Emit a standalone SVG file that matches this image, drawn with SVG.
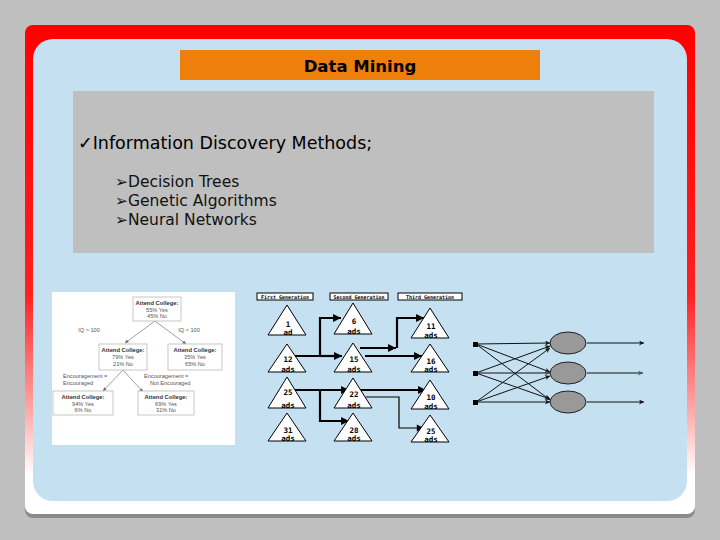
<svg xmlns="http://www.w3.org/2000/svg" width="720" height="540" viewBox="0 0 720 540">
<defs>
<linearGradient id="frameGrad" x1="0" y1="0" x2="0" y2="1">
<stop offset="0" stop-color="#ff0000"/>
<stop offset="0.55" stop-color="#ff2020"/>
<stop offset="0.8" stop-color="#ffb0b0"/>
<stop offset="0.92" stop-color="#ffffff"/>
<stop offset="1" stop-color="#ffffff"/>
</linearGradient>
<marker id="ga" viewBox="0 0 10 10" refX="10" refY="5" markerWidth="4.6" markerHeight="3.6" orient="auto" markerUnits="strokeWidth">
<path d="M0,0 L10,5 L0,10 z" fill="#000"/>
</marker>
<marker id="gaThin" viewBox="0 0 10 10" refX="10" refY="5" markerWidth="8" markerHeight="6" orient="auto" markerUnits="strokeWidth">
<path d="M0,0 L10,5 L0,10 z" fill="#000"/>
</marker>
<marker id="nn" viewBox="0 0 10 10" refX="10" refY="5" markerWidth="10" markerHeight="5" orient="auto" markerUnits="strokeWidth">
<path d="M0,0 L10,5 L0,10 L3,5 z" fill="#111"/>
</marker>
<marker id="nnGray" viewBox="0 0 10 10" refX="10" refY="5" markerWidth="10" markerHeight="5" orient="auto" markerUnits="strokeWidth">
<path d="M0,0 L10,5 L0,10 L3,5 z" fill="#555"/>
</marker>
<marker id="dt" viewBox="0 0 10 10" refX="10" refY="5" markerWidth="6" markerHeight="5" orient="auto" markerUnits="strokeWidth">
<path d="M0,0 L10,5 L0,10 z" fill="#666"/>
</marker>
<style>
.title{font-family:"DejaVu Sans",sans-serif;font-weight:bold;font-size:16.5px;fill:#000}
.main{font-family:"DejaVu Sans",sans-serif;font-size:17.5px;fill:#000}
.sub{font-family:"DejaVu Sans",sans-serif;font-size:15.5px;fill:#111}
.dtbox{fill:#fff;stroke:#b8b8b8;stroke-width:0.8}
.dtb{font-family:"Liberation Sans",sans-serif;font-size:5.8px;font-weight:bold;fill:#333}
.dtt{font-family:"Liberation Sans",sans-serif;font-size:5.6px;fill:#555}
.dtl{stroke:#777;stroke-width:0.7;fill:none}
.tri{fill:#fff;stroke:#000;stroke-width:1}
.hdr{fill:#fff;stroke:#000;stroke-width:1}
.ht{font-family:"DejaVu Sans Mono",monospace;font-weight:bold;font-size:5px;fill:#000}
.tn{font-family:"DejaVu Sans Mono",monospace;font-weight:bold;font-size:7.5px;fill:#000}
.ga{stroke:#000;stroke-width:2.2;fill:none}
.gaThin{stroke:#000;stroke-width:1.2;fill:none}
.nl{stroke:#111;stroke-width:1;fill:none}
.node{fill:#999;stroke:#222;stroke-width:1}
</style>
</defs>
<rect width="720" height="540" fill="#bfbfbf"/>
<g id="slide-frame">
<rect x="25" y="28" width="670" height="490" rx="8" fill="#8a8a8a"/>
<rect x="25" y="25" width="670" height="489" rx="8" fill="url(#frameGrad)"/>
<rect x="33" y="39" width="654" height="462" rx="20" fill="#c4e0f1"/>
</g>
<g id="title">
<rect x="180" y="50" width="360" height="30" fill="#ef7f0b"/>
<text class="title" x="360" y="72" text-anchor="middle">Data Mining</text>
</g>
<g id="content">
<rect x="73" y="91" width="581" height="162" fill="#bfbfbf"/>
<text class="main" x="78" y="149">✓Information Discovery Methods;</text>
<text class="sub" x="115" y="187">➢Decision Trees</text>
<text class="sub" x="115" y="206">➢Genetic Algorithms</text>
<text class="sub" x="115" y="225">➢Neural Networks</text>
</g>
<g id="decision-tree">
<rect x="52" y="292" width="183" height="153" fill="#fff"/>
<g class="dtl">
<line x1="155" y1="321" x2="125" y2="343" marker-end="url(#dt)"/>
<line x1="155" y1="321" x2="186" y2="344" marker-end="url(#dt)"/>
<line x1="123" y1="370" x2="103" y2="391" marker-end="url(#dt)"/>
<line x1="123" y1="370" x2="143" y2="392" marker-end="url(#dt)"/>
</g>
<g id="dt-root">
<rect class="dtbox" x="133" y="297" width="48" height="24"/>
<text class="dtb" x="157" y="305" text-anchor="middle">Attend College:</text>
<text class="dtt" x="157" y="311.5" text-anchor="middle">55% Yes</text>
<text class="dtt" x="157" y="318" text-anchor="middle">45% No</text>
</g>
<text class="dtt" x="89" y="332" text-anchor="middle">IQ &gt; 100</text>
<text class="dtt" x="189" y="332" text-anchor="middle">IQ &lt; 100</text>
<g id="dt-left">
<rect class="dtbox" x="99" y="344" width="48" height="26"/>
<text class="dtb" x="123" y="352" text-anchor="middle">Attend College:</text>
<text class="dtt" x="123" y="359" text-anchor="middle">79% Yes</text>
<text class="dtt" x="123" y="366" text-anchor="middle">21% No</text>
</g>
<g id="dt-right">
<rect class="dtbox" x="168" y="344" width="54" height="26"/>
<text class="dtb" x="195" y="352" text-anchor="middle">Attend College:</text>
<text class="dtt" x="195" y="359" text-anchor="middle">35% Yes</text>
<text class="dtt" x="195" y="366" text-anchor="middle">65% No</text>
</g>
<text class="dtt" x="63" y="378">Encouragement =</text>
<text class="dtt" x="63" y="385">Encouraged</text>
<text class="dtt" x="144" y="378">Encouragement =</text>
<text class="dtt" x="150" y="385">Not Encouraged</text>
<g id="dt-bl">
<rect class="dtbox" x="53" y="391" width="60" height="24"/>
<text class="dtb" x="83" y="399" text-anchor="middle">Attend College:</text>
<text class="dtt" x="83" y="405.5" text-anchor="middle">94% Yes</text>
<text class="dtt" x="83" y="412" text-anchor="middle">6% No</text>
</g>
<g id="dt-br">
<rect class="dtbox" x="138" y="391" width="56" height="24"/>
<text class="dtb" x="166" y="399" text-anchor="middle">Attend College:</text>
<text class="dtt" x="166" y="405.5" text-anchor="middle">69% Yes</text>
<text class="dtt" x="166" y="412" text-anchor="middle">31% No</text>
</g>
</g>
<g id="genetic">
<g id="ga-headers">
<rect class="hdr" x="257" y="293" width="56" height="7"/>
<text class="ht" x="285" y="298.6" text-anchor="middle">First Generation</text>
<rect class="hdr" x="330" y="293" width="58" height="7"/>
<text class="ht" x="359" y="298.6" text-anchor="middle">Second Generation</text>
<rect class="hdr" x="398" y="293" width="64" height="7"/>
<text class="ht" x="430" y="298.6" text-anchor="middle">Third Generation</text>
</g>
<g id="ga-connectors">
<path class="ga" d="M295,356 H320 V318 H341" marker-end="url(#ga)"/>
<path class="ga" d="M320,356 H342" marker-end="url(#ga)"/>
<path class="ga" d="M360,348 H396" marker-end="url(#ga)"/>
<path class="ga" d="M397,348 V318 H424" marker-end="url(#ga)"/>
<path class="ga" d="M365,356 H422" marker-end="url(#ga)"/>
<path class="ga" d="M295,390 H349" marker-end="url(#ga)"/>
<path class="ga" d="M320,390 V421 H349" marker-end="url(#ga)"/>
<path class="ga" d="M360,390 H426" marker-end="url(#ga)"/>
<path class="gaThin" d="M366,397 H399 V428 H424" marker-end="url(#gaThin)"/>
</g>
<g id="t1-1"><polygon class="tri" points="287,305 268,335 306,335"/><text class="tn" x="288" y="327" text-anchor="middle">1</text><text class="tn" x="288" y="334.5" text-anchor="middle">ad</text></g>
<g id="t1-2"><polygon class="tri" points="287,344 268,372 306,372"/><text class="tn" x="288" y="362" text-anchor="middle">12</text><text class="tn" x="288" y="371.5" text-anchor="middle">ads</text></g>
<g id="t1-3"><polygon class="tri" points="287,377 268,408 306,408"/><text class="tn" x="288" y="395" text-anchor="middle">25</text><text class="tn" x="288" y="407.5" text-anchor="middle">ads</text></g>
<g id="t1-4"><polygon class="tri" points="287,413 268,441 306,441"/><text class="tn" x="288" y="433" text-anchor="middle">31</text><text class="tn" x="288" y="440.5" text-anchor="middle">ads</text></g>
<g id="t2-1"><polygon class="tri" points="353,303 334,334 372,334"/><text class="tn" x="354" y="324" text-anchor="middle">6</text><text class="tn" x="354" y="333.5" text-anchor="middle">ads</text></g>
<g id="t2-2"><polygon class="tri" points="353,343 334,372 372,372"/><text class="tn" x="354" y="362" text-anchor="middle">15</text><text class="tn" x="354" y="371.5" text-anchor="middle">ads</text></g>
<g id="t2-3"><polygon class="tri" points="353,378 334,408 372,408"/><text class="tn" x="354" y="397" text-anchor="middle">22</text><text class="tn" x="354" y="407.5" text-anchor="middle">ads</text></g>
<g id="t2-4"><polygon class="tri" points="353,413 334,441 372,441"/><text class="tn" x="354" y="433" text-anchor="middle">28</text><text class="tn" x="354" y="440.5" text-anchor="middle">ads</text></g>
<g id="t3-1"><polygon class="tri" points="430,308 411,338 449,338"/><text class="tn" x="431" y="329" text-anchor="middle">11</text><text class="tn" x="431" y="337.5" text-anchor="middle">ads</text></g>
<g id="t3-2"><polygon class="tri" points="430,344 411,372 449,372"/><text class="tn" x="431" y="364" text-anchor="middle">16</text><text class="tn" x="431" y="371.5" text-anchor="middle">ads</text></g>
<g id="t3-3"><polygon class="tri" points="430,380 411,409 449,409"/><text class="tn" x="431" y="400" text-anchor="middle">10</text><text class="tn" x="431" y="408.5" text-anchor="middle">ads</text></g>
<g id="t3-4"><polygon class="tri" points="430,415 411,442 449,442"/><text class="tn" x="431" y="434" text-anchor="middle">25</text><text class="tn" x="431" y="441.5" text-anchor="middle">ads</text></g>
</g>
<g id="neural-net">
<g id="nn-connectors">
<line class="nl" x1="476" y1="344" x2="550" y2="343" marker-end="url(#nn)"/>
<line class="nl" x1="476" y1="344" x2="550" y2="372" marker-end="url(#nn)"/>
<line class="nl" x1="476" y1="344" x2="550" y2="400" marker-end="url(#nn)"/>
<line class="nl" x1="476" y1="373" x2="550" y2="346" marker-end="url(#nn)"/>
<line class="nl" x1="476" y1="373" x2="550" y2="373" stroke="#777" marker-end="url(#nnGray)"/>
<line class="nl" x1="476" y1="373" x2="550" y2="399" marker-end="url(#nn)"/>
<line class="nl" x1="476" y1="402" x2="550" y2="348" marker-end="url(#nn)"/>
<line class="nl" x1="476" y1="402" x2="550" y2="376" marker-end="url(#nn)"/>
<line class="nl" x1="476" y1="402" x2="550" y2="402" marker-end="url(#nn)"/>
<line class="nl" x1="587" y1="343" x2="644" y2="343" marker-end="url(#nn)"/>
<line class="nl" x1="587" y1="373" x2="643" y2="373" stroke="#888" marker-end="url(#nnGray)"/>
<line class="nl" x1="587" y1="402" x2="644" y2="402" marker-end="url(#nn)"/>
</g>
<g id="nn-in1"><rect x="473" y="342" width="5" height="5" fill="#000"/></g>
<g id="nn-in2"><rect x="473" y="371" width="5" height="5" fill="#000"/></g>
<g id="nn-in3"><rect x="473" y="400" width="5" height="5" fill="#000"/></g>
<g id="nn-h1"><ellipse class="node" cx="568" cy="343" rx="18" ry="11"/></g>
<g id="nn-h2"><ellipse class="node" cx="568" cy="373" rx="18" ry="11"/></g>
<g id="nn-h3"><ellipse class="node" cx="568" cy="402" rx="18" ry="11"/></g>
</g>
</svg>
